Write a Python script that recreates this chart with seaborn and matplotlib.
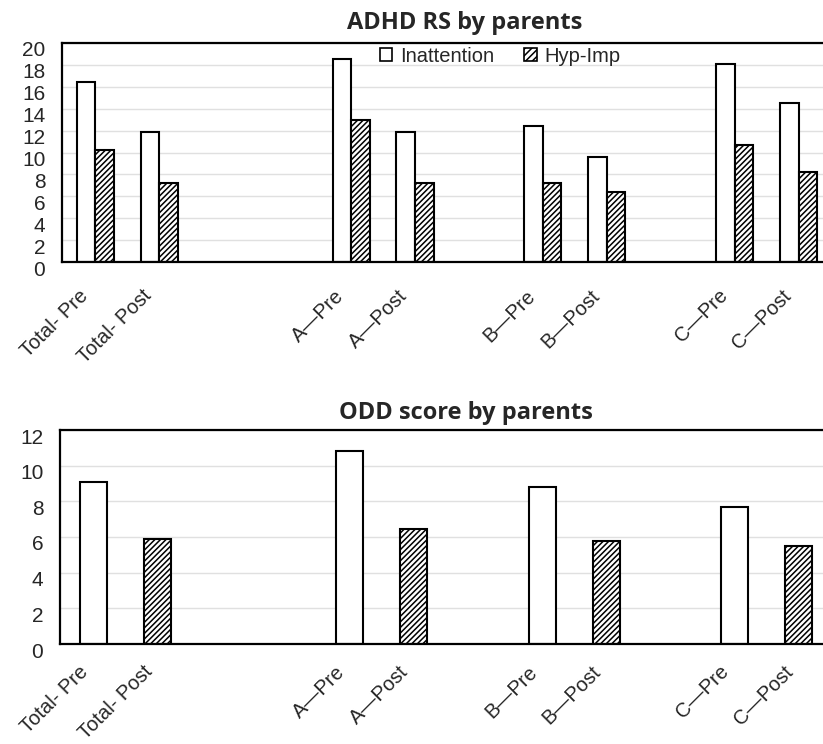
import matplotlib
matplotlib.use("Agg")
import matplotlib.pyplot as plt
import matplotlib.transforms as mtransforms
from matplotlib.patches import Patch
import seaborn as sns
import pandas as pd

# ---------------- data ----------------
slots = ["Total-Pre", "Total-Post", "gap1", "gap2", "A-Pre", "A-Post", "gap3",
         "B-Pre", "B-Post", "gap4", "C-Pre", "C-Post"]
slot_labels = ["Total- Pre", "Total- Post", "", "", "A\u2014Pre", "A\u2014Post", "",
               "B\u2014Pre", "B\u2014Post", "", "C\u2014Pre", "C\u2014Post"]

groups = ["Total-Pre", "Total-Post", "A-Pre", "A-Post", "B-Pre", "B-Post", "C-Pre", "C-Post"]
inattention = [16.4, 11.9, 18.5, 11.9, 12.4, 9.6, 18.1, 14.5]
hyp_imp = [10.2, 7.2, 13.0, 7.2, 7.2, 6.4, 10.7, 8.2]

odd_phase = ["Pre", "Post", "Pre", "Post", "Pre", "Post", "Pre", "Post"]
odd_score = [9.06, 5.87, 10.85, 6.43, 8.78, 5.77, 7.66, 5.49]

series = ["Inattention", "Hyp-Imp"]

df_top = pd.DataFrame({
    "slot": groups * 2,
    "series": [series[0]] * len(groups) + [series[1]] * len(groups),
    "value": inattention + hyp_imp,
})
df_bot = pd.DataFrame({"slot": groups, "phase": odd_phase, "value": odd_score})

# ---------------- style ----------------
sns.set_style("white")
plt.rcParams["font.family"] = ["Liberation Sans", "DejaVu Sans"]
plt.rcParams["hatch.linewidth"] = 1.1
plt.rcParams["hatch.color"] = "black"

W, H = 823, 744
fig = plt.figure(figsize=(W / 100, H / 100), dpi=100)

def px_axes(l, t, r, b):
    return fig.add_axes([l / W, 1 - b / H, (r - l) / W, (b - t) / H])

ax1 = px_axes(62, 43, 823, 262)
ax2 = px_axes(60, 430, 823, 644)

HATCH = "//////"

# ---- top chart ----
sns.barplot(data=df_top, x="slot", y="value", hue="series", order=slots,
            hue_order=series, palette=["white", "white"], width=0.58,
            dodge=True, ax=ax1, legend=False, edgecolor="black", linewidth=1.5,
            errorbar=None, saturation=1)
for i, cont in enumerate(ax1.containers):
    for p in cont:
        p.set_facecolor("white")
        p.set_edgecolor("black")
        p.set_linewidth(1.5)
        if i == 1:
            p.set_hatch(HATCH)
ax1.set_ylim(0, 20)
ax1.set_yticks(range(0, 21, 2))

# ---- bottom chart ----
sns.barplot(data=df_bot, x="slot", y="value", hue="phase", order=slots,
            hue_order=["Pre", "Post"], palette=["white", "white"], width=0.42,
            dodge=False, ax=ax2, legend=False, edgecolor="black", linewidth=1.5,
            errorbar=None, saturation=1)
for i, cont in enumerate(ax2.containers):
    for p in cont:
        p.set_facecolor("white")
        p.set_edgecolor("black")
        p.set_linewidth(1.5)
        if i == 1:
            p.set_hatch(HATCH)
ax2.set_ylim(0, 12)
ax2.set_yticks(range(0, 13, 2))

label_offsets = {ax1: (-17, -13), ax2: (-15, -7)}

for ax in (ax1, ax2):
    ax.set_xlim(-0.52, 11.38)
    ax.set_xlabel("")
    ax.set_ylabel("")
    ax.grid(axis="y", color="#e0e0e0", linewidth=1.0)
    ax.set_axisbelow(True)
    for s in ("left", "top", "bottom"):
        ax.spines[s].set_visible(True)
        ax.spines[s].set_color("black")
        ax.spines[s].set_linewidth(1.6)
    ax.spines["right"].set_visible(False)
    ax.set_xticks(range(len(slots)))
    ax.set_xticklabels(slot_labels, rotation=45, ha="right",
                       rotation_mode="anchor", fontsize=14.5)
    ax.tick_params(axis="x", length=0, pad=8)
    ax.set_xticks([i + 0.5 for i in range(len(slots) - 1)], minor=True)
    ax.tick_params(axis="x", which="minor", direction="in", length=5,
                   color="#cccccc", width=1)
    ax.tick_params(axis="y", length=0, labelsize=15, pad=12)
    off = mtransforms.ScaledTranslation(0, -6 / 100, fig.dpi_scale_trans)
    for lab in ax.get_yticklabels():
        lab.set_transform(lab.get_transform() + off)
    dx, dy = label_offsets[ax]
    off2 = mtransforms.ScaledTranslation(dx / 100, dy / 100, fig.dpi_scale_trans)
    for lab in ax.get_xticklabels():
        lab.set_transform(lab.get_transform() + off2)

title_font = ["Open Sans", "DejaVu Sans"]
fig.text(465 / W, 1 - 23 / H, "ADHD RS by parents", ha="center", va="center",
         fontsize=17, fontweight="bold", family=title_font)
fig.text(466 / W, 1 - 413 / H, "ODD score by parents", ha="center", va="center",
         fontsize=17, fontweight="bold", family=title_font)

handles = [Patch(facecolor="white", edgecolor="black", linewidth=1.2),
           Patch(facecolor="white", edgecolor="black", linewidth=1.2, hatch="/////")]
ax1.legend(handles, series, loc="center left",
           bbox_to_anchor=((380 - 62) / 761, 1 - (56 - 43) / 219),
           ncol=2, frameon=False, fontsize=14.5, handlelength=0.6,
           handleheight=0.6, handletextpad=0.4, columnspacing=1.5,
           borderpad=0, borderaxespad=0)

fig.savefig("out.png", dpi=100)
